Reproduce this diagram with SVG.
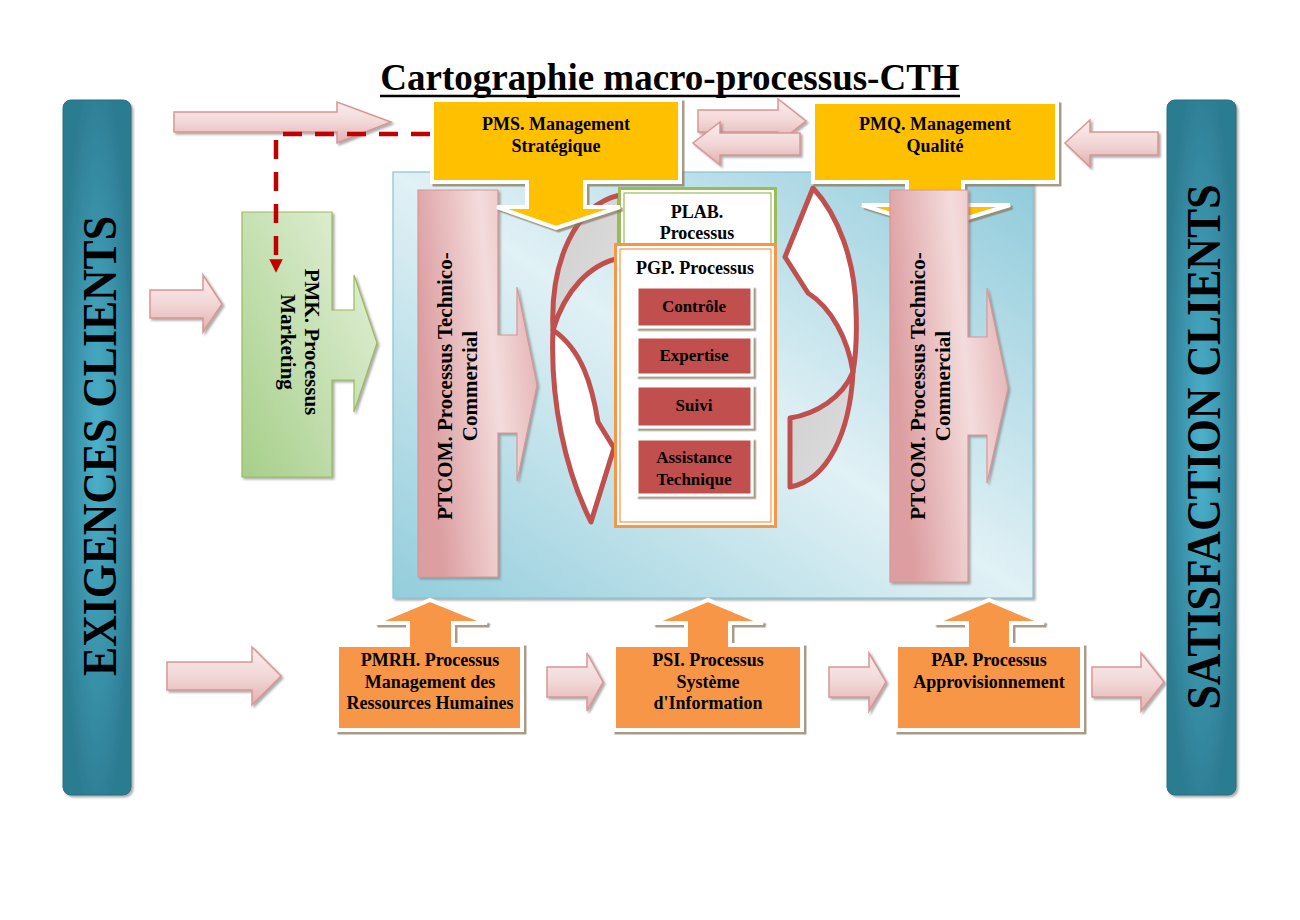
<svg xmlns="http://www.w3.org/2000/svg" width="1300" height="920" viewBox="0 0 1300 920">
<defs>
<style>
.t{font-family:"Liberation Serif","Times New Roman",serif;font-weight:bold;fill:#000}
.pink{fill:url(#gPink);stroke:#d99694;stroke-width:1.5;filter:url(#sh)}
.gold{fill:#ffc000;stroke:#fff;stroke-width:4;filter:url(#sh2)}
.orange{fill:#f79646;stroke:#fff;stroke-width:4;filter:url(#sh2)}
.red{fill:#c0504d;stroke:#fff;stroke-width:3;filter:url(#sh2)}
.col{fill:url(#gCol);stroke:#d99694;stroke-width:1.2;filter:url(#sh)}
.loop{stroke:#c0504d;stroke-width:5;stroke-linejoin:round}
.front{fill:#fff}
.back{fill:url(#gGray)}
</style>
<filter id="sh" x="-10%" y="-10%" width="130%" height="130%"><feDropShadow dx="2" dy="2" stdDeviation="1" flood-color="#777" flood-opacity="0.6"/></filter>
<filter id="sh2" x="-10%" y="-10%" width="130%" height="130%"><feDropShadow dx="2.5" dy="2.5" stdDeviation="0.6" flood-color="#8a7a60" flood-opacity="0.75"/></filter>
<linearGradient id="gPink" x1="0" y1="0" x2="0" y2="1"><stop offset="0" stop-color="#fbeeee"/><stop offset="0.5" stop-color="#f2d7d7"/><stop offset="1" stop-color="#e2b0b0"/></linearGradient>
<linearGradient id="gCol" x1="0" y1="0.3" x2="1" y2="0"><stop offset="0" stop-color="#dc9ea1"/><stop offset="0.55" stop-color="#f4dcdc"/><stop offset="1" stop-color="#e0a9ab"/></linearGradient>
<linearGradient id="gGreen" x1="1" y1="0" x2="0" y2="1"><stop offset="0" stop-color="#e6f2dc"/><stop offset="1" stop-color="#a6cf8a"/></linearGradient>
<linearGradient id="gBlue" x1="0" y1="1" x2="1" y2="0"><stop offset="0" stop-color="#93cddc"/><stop offset="0.5" stop-color="#e1f1f5"/><stop offset="1" stop-color="#8fcadb"/></linearGradient>
<radialGradient id="gBar" cx="0.5" cy="0.5" r="0.55"><stop offset="0" stop-color="#4cb2cd"/><stop offset="1" stop-color="#2c7b91"/></radialGradient>
<linearGradient id="gGray" x1="0" y1="0" x2="1" y2="1"><stop offset="0" stop-color="#cfcfcf"/><stop offset="1" stop-color="#dedede"/></linearGradient>
<marker id="ah" viewBox="0 0 10 10" refX="5" refY="5" markerWidth="3" markerHeight="3" orient="auto" markerUnits="strokeWidth"><path d="M0,0 L10,5 L0,10 Z" fill="#c00000"/></marker>
</defs>

<rect width="1300" height="920" fill="#fff"/>

<g id="title">
<text class="t" x="670" y="90" font-size="37" text-anchor="middle">Cartographie macro-processus-CTH</text>
<line x1="380" y1="96" x2="960" y2="96" stroke="#000" stroke-width="2.5"/>
</g>

<g id="exigences-clients">
<rect x="63" y="100" width="68" height="695" rx="8" fill="url(#gBar)" stroke="#2a6f82" stroke-width="1" filter="url(#sh)"/>
<text class="t" transform="translate(116,446) rotate(-90)" font-size="48" text-anchor="middle" textLength="460" lengthAdjust="spacingAndGlyphs">EXIGENCES CLIENTS</text>
</g>

<g id="satisfaction-clients">
<rect x="1167" y="100" width="69" height="695" rx="8" fill="url(#gBar)" stroke="#2a6f82" stroke-width="1" filter="url(#sh)"/>
<text class="t" transform="translate(1220,447) rotate(-90)" font-size="48" text-anchor="middle" textLength="525" lengthAdjust="spacingAndGlyphs">SATISFACTION CLIENTS</text>
</g>

<g id="panel">
<rect x="393" y="172" width="640" height="426" fill="url(#gBlue)" stroke="#86c5d6" stroke-width="1.2" filter="url(#sh)"/>
</g>

<g id="pmk">
<path d="M242,212 H332 V310 H354 V275 L377,343 L354,412 V380 H332 V477 H242 Z" fill="url(#gGreen)" stroke="#9bbb59" stroke-width="1.2" filter="url(#sh)"/>
<text class="t" transform="translate(305,342) rotate(90)" font-size="21" text-anchor="middle"><tspan x="0" y="0">PMK. Processus</tspan><tspan x="0" dy="24">Marketing</tspan></text>
</g>

<g id="ptcom-left">
<path class="col" d="M418,190 H498 V335 H517 V287 L537,385 L517,481 V433 H498 V577 H418 Z"/>
<text class="t" transform="translate(452,386) rotate(-90)" font-size="21" text-anchor="middle"><tspan x="0" y="0">PTCOM. Processus Technico-</tspan><tspan x="0" dy="25">Commercial</tspan></text>
</g>

<g id="loop-left">
<path class="loop back" d="M553,330 C550,262 575,205 620,195 L620,258 C590,264 565,290 553,330 Z"/>
<path class="loop front" d="M553,330 C550,400 565,470 591,522 L614,448 L598,422 C592,385 582,350 553,330 Z"/>
</g>

<g id="loop-right">
<path class="loop front" d="M813,188 C838,215 855,260 856,310 C857,335 856,355 853,372 C848,340 832,308 808,293 L785,257 Z"/>
<path class="loop back" d="M853,372 C842,398 816,414 790,418 L790,487 C828,480 850,432 853,372 Z"/>
</g>

<g id="plab">
<rect x="619.5" y="188.5" width="156" height="70" fill="#fff" stroke="#9bbb59" stroke-width="3"/>
<rect x="624" y="193" width="147" height="62" fill="none" stroke="#9bbb59" stroke-width="1.2"/>
<text class="t" x="697" y="218" font-size="18" text-anchor="middle">PLAB.</text>
<text class="t" x="697" y="239" font-size="18" text-anchor="middle">Processus</text>
</g>

<g id="pgp">
<rect x="615.5" y="244.5" width="160" height="282" fill="#fff" stroke="#f79646" stroke-width="3"/>
<rect x="620" y="249" width="151" height="273" fill="none" stroke="#f79646" stroke-width="1.2"/>
<text class="t" x="695" y="274" font-size="18" text-anchor="middle">PGP. Processus</text>
</g>
<g id="controle">
<rect class="red" x="637" y="287" width="115" height="40"/>
<text class="t" x="694" y="312" font-size="17" text-anchor="middle">Contrôle</text>
</g>
<g id="expertise">
<rect class="red" x="637" y="337" width="115" height="38"/>
<text class="t" x="694" y="361" font-size="17" text-anchor="middle">Expertise</text>
</g>
<g id="suivi">
<rect class="red" x="637" y="386" width="115" height="41"/>
<text class="t" x="694" y="411" font-size="17" text-anchor="middle">Suivi</text>
</g>
<g id="assistance">
<rect class="red" x="637" y="439" width="115" height="56"/>
<text class="t" x="694" y="463" font-size="17" text-anchor="middle">Assistance</text>
<text class="t" x="694" y="485" font-size="17" text-anchor="middle">Technique</text>
</g>

<g id="pms">
<path class="gold" d="M432,100 H680 V182 H585 V207 H620 L556,228 L497,207 H527 V182 H432 Z"/>
<text class="t" x="556" y="130" font-size="18" text-anchor="middle">PMS. Management</text>
<text class="t" x="556" y="152" font-size="18" text-anchor="middle">Stratégique</text>
</g>

<g id="pmq">
<path class="gold" d="M813,102 H1057 V182 H963 V205 H1010 L935,228 L862,205 H907 V182 H813 Z"/>
<text class="t" x="935" y="130" font-size="18" text-anchor="middle">PMQ. Management</text>
<text class="t" x="935" y="152" font-size="18" text-anchor="middle">Qualité</text>
</g>

<g id="ptcom-right">
<path class="col" d="M890,190 H968 V337 H987 V288 L1008,388 L987,483 V435 H968 V582 H890 Z"/>
<text class="t" transform="translate(925,386) rotate(-90)" font-size="21" text-anchor="middle"><tspan x="0" y="0">PTCOM. Processus Technico-</tspan><tspan x="0" dy="25">Commercial</tspan></text>
</g>

<g id="pmrh">
<path class="orange" d="M337,645 H408 V623 H375 L430,600 L487,623 H453 V645 H522 V730 H337 Z"/>
<text class="t" x="430" y="666" font-size="18" text-anchor="middle">PMRH. Processus</text>
<text class="t" x="430" y="688" font-size="18" text-anchor="middle">Management des</text>
<text class="t" x="430" y="709" font-size="18" text-anchor="middle">Ressources Humaines</text>
</g>

<g id="psi">
<path class="orange" d="M614,645 H686 V623 H653 L708,600 L763,623 H730 V645 H802 V730 H614 Z"/>
<text class="t" x="708" y="666" font-size="18" text-anchor="middle">PSI. Processus</text>
<text class="t" x="708" y="688" font-size="18" text-anchor="middle">Système</text>
<text class="t" x="708" y="709" font-size="18" text-anchor="middle">d'Information</text>
</g>

<g id="pap">
<path class="orange" d="M896,645 H967 V623 H934 L989,600 L1044,623 H1011 V645 H1082 V730 H896 Z"/>
<text class="t" x="989" y="666" font-size="18" text-anchor="middle">PAP. Processus</text>
<text class="t" x="989" y="688" font-size="18" text-anchor="middle">Approvisionnement</text>
</g>

<g id="connectors">
<path class="pink" d="M174,112 H337 V102 L391,122 L337,143 V132 H174 Z"/>
<path class="pink" d="M150,290 H203 V275 L222,304 L203,332 V318 H150 Z"/>
<path class="pink" d="M167,662 H252 V647 L281,676 L252,705 V690 H167 Z"/>
<path class="pink" d="M698,110 H778 V99 L806,121 L778,143 V132 H698 Z"/>
<path class="pink" d="M800,133 H720 V122 L693,143 L720,165 V155 H800 Z"/>
<path class="pink" d="M1158,132 H1090 V120 L1065,143 L1090,167 V155 H1158 Z"/>
<path class="pink" d="M547,667 H587 V653 L603,682 L587,711 V697 H547 Z"/>
<path class="pink" d="M829,667 H869 V653 L886,682 L869,711 V697 H829 Z"/>
<path class="pink" d="M1092,667 H1141 V653 L1164,682 L1141,711 V697 H1092 Z"/>
<path d="M430,134 H276 V266" fill="none" stroke="#c00000" stroke-width="4.5" stroke-dasharray="19 13" marker-end="url(#ah)"/>
</g>
</svg>
